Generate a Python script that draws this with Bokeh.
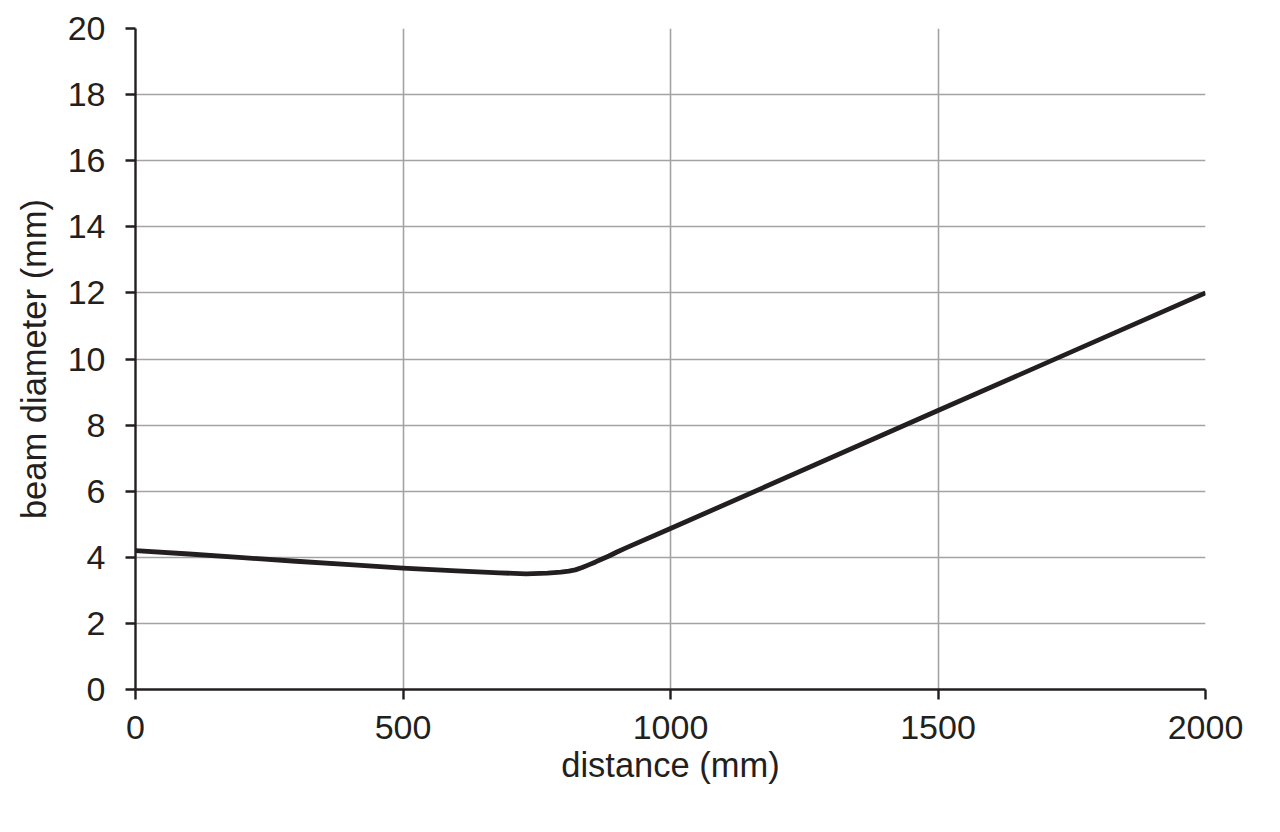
from bokeh.plotting import figure
from bokeh.embed import file_html
from bokeh.resources import INLINE
from bokeh.models import FixedTicker, Range1d

# data
distance_mm = [0, 100, 200, 300, 400, 500, 600, 680, 730, 770, 795, 810, 822, 835, 847, 860, 872, 885, 900, 919, 1000, 1500, 2000]
beam_diameter_mm = [4.20, 4.10, 3.99, 3.88, 3.78, 3.67, 3.59, 3.53, 3.50, 3.52, 3.55, 3.58, 3.62, 3.69, 3.77, 3.86, 3.95, 4.04, 4.16, 4.30, 4.87, 8.44, 12.0]
x_ticks = [0, 500, 1000, 1500, 2000]
y_ticks = [0, 2, 4, 6, 8, 10, 12, 14, 16, 18, 20]

FONT = "Liberation Sans"
DARK = "#231f20"

p = figure(width=1268, height=820, output_backend="svg", toolbar_location=None,
           x_range=Range1d(0, 2000), y_range=Range1d(0, 20),
           min_border_left=135, min_border_right=63, min_border_top=28, min_border_bottom=131)
p.outline_line_color = None
p.background_fill_color = "white"
p.border_fill_color = "white"

p.line(distance_mm, beam_diameter_mm, line_color=DARK, line_width=4.8, line_join="round")

p.xaxis.ticker = FixedTicker(ticks=x_ticks)
p.yaxis.ticker = FixedTicker(ticks=y_ticks)
p.xaxis.axis_label = "distance (mm)"
p.yaxis.axis_label = "beam diameter (mm)"

for ax in (p.xaxis, p.yaxis):
    ax.axis_line_color = DARK
    ax.axis_line_width = 2.4
    ax.major_tick_line_color = DARK
    ax.major_tick_line_width = 2.4
    ax.major_tick_out = 10
    ax.major_tick_in = 0
    ax.minor_tick_line_color = None
    ax.major_label_text_font = FONT
    ax.major_label_text_font_size = "34px"
    ax.major_label_text_color = DARK
    ax.axis_label_text_font = FONT
    ax.axis_label_text_font_size = "34.5px"
    ax.axis_label_text_font_style = "normal"
    ax.axis_label_text_color = DARK

p.yaxis.major_label_standoff = 20
p.xaxis.major_label_standoff = 16
p.yaxis.axis_label_standoff = 12
p.xaxis.axis_label_standoff = 4

p.grid.grid_line_color = "#a3a3a3"
p.grid.grid_line_width = 1.6

open("out.html", "w").write(file_html(p, INLINE))
